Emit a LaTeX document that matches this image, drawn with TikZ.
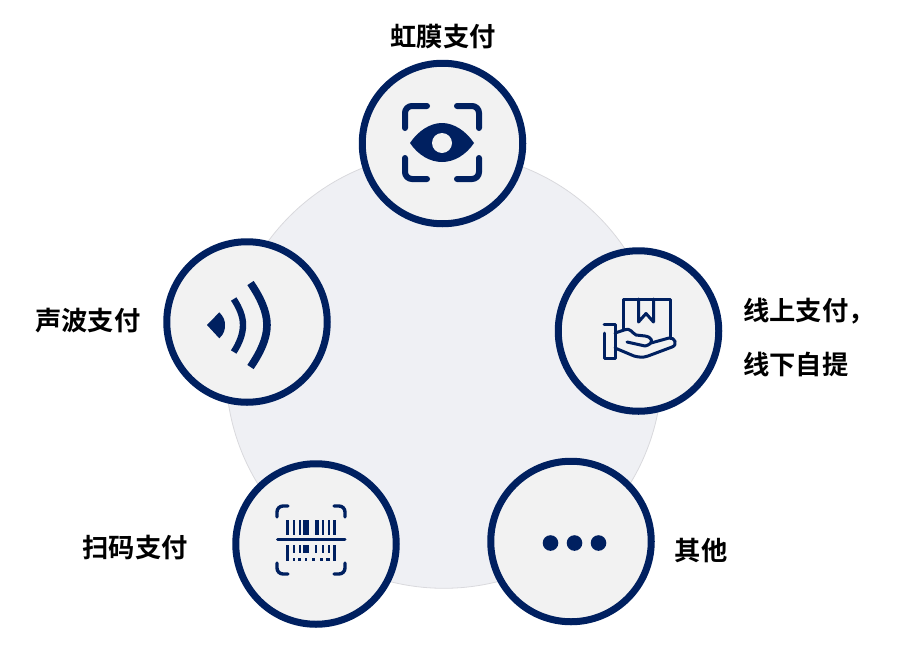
\documentclass[tikz,border=0pt]{standalone}
\usepackage{fontspec}
\newfontfamily\cjk{Noto Sans CJK SC}[BoldFont={Noto Sans CJK SC Bold}]
\definecolor{navy}{HTML}{002060}
\definecolor{disc}{HTML}{F2F2F2}
\definecolor{bigdisc}{HTML}{EFF0F4}
\definecolor{bigedge}{HTML}{D9D9DD}
\tikzset{
  ring/.style={circle,draw=navy,fill=disc,line width=7pt,minimum size=160.5pt,inner sep=0pt,outer sep=0pt},
  lab/.style={font=\cjk\bfseries\fontsize{26.3}{30}\selectfont,text=black,inner sep=0pt},
  backdisc/.style={circle,draw=bigedge,fill=bigdisc,line width=0.8pt,minimum size=436pt,inner sep=0pt,outer sep=0pt},
  bracket/.style={draw=navy,line width=6pt,line cap=round,rounded corners=7pt},
  thinicon/.style={draw=navy,line width=3pt,line cap=round,line join=round},
  codebracket/.style={draw=navy,line width=3.4pt,line cap=round,rounded corners=6pt},
  barfill/.style={fill=navy}
}
\newcommand{\cbar}[4]{\fill[barfill] (#1,#3) rectangle (#2,#4);}
\begin{document}
\begin{tikzpicture}[x=1pt,y=-1pt]
\useasboundingbox (0,0) rectangle (924,651);
\node[backdisc] (big) at (443.9,370.3) {};
\node[ring] (iris) at (442.5,143.5) {};
\node[ring] (online) at (638.5,331) {};
\node[ring] (other) at (571,541.5) {};
\node[ring] (scan) at (316,544) {};
\node[ring] (sound) at (247,322) {};
\node[lab] (tiris) at (443,36.7) {虹膜支付};
\node[lab,anchor=west] (tonline1) at (743,311.5) {线上支付，};
\node[lab,anchor=west] (tonline2) at (743,364.5) {线下自提};
\node[lab] (tother) at (701,550.7) {其他};
\node[lab] (tscan) at (135,547.7) {扫码支付};
\node[lab] (tsound) at (88,320.7) {声波支付};
% eye icon
\draw[bracket] (405,128) -- (405,106) -- (427,106);
\draw[bracket] (457,106) -- (479,106) -- (479,128);
\draw[bracket] (405,158) -- (405,179) -- (427,179);
\draw[bracket] (457,179) -- (479,179) -- (479,158);
\fill[navy] (410,143) .. controls (418,131) and (430,123) .. (442,123) .. controls (454,123) and (466,131) .. (474,143) .. controls (466,155) and (454,162) .. (442,162) .. controls (430,162) and (418,155) .. (410,143) -- cycle;
\fill[disc] (442,143) circle (10);
% box in hand
\draw[thinicon] (623,330) -- (623,299) -- (670,299) -- (670,338);
\draw[thinicon] (638.5,299) -- (638.5,322) -- (646,313.5) -- (653.5,322) -- (653.5,299);
\draw[thinicon] (604,324) -- (615,324) -- (615,358) -- (604,358) -- (604,333);
\draw[thinicon] (615,333) -- (624,330) .. controls (630,327) and (632,333) .. (636,335) -- (645,336) .. controls (652,337) and (654,342) .. (648,345) -- (645,346) -- (627,342);
\draw[thinicon] (651,343) -- (669,338) .. controls (675,337) and (678,345) .. (672,347) -- (648,356) .. controls (643,358) and (638,357) .. (634,356) -- (615,348);
% barcode
\draw[codebracket] (277,517) -- (277,506) -- (288,506);
\draw[codebracket] (334,506) -- (345,506) -- (345,517);
\draw[codebracket] (277,563) -- (277,574) -- (288,574);
\draw[codebracket] (334,574) -- (345,574) -- (345,563);
\draw[navy,line width=3pt,line cap=round] (277.5,539.5) -- (345,539.5);
\cbar{286}{289.3}{520}{535}
\cbar{292.7}{294.5}{520}{535}
\cbar{299}{300.9}{520}{535}
\cbar{303.3}{309}{520}{535}
\cbar{315}{319}{520}{535}
\cbar{322}{323.9}{520}{535}
\cbar{328.3}{330.2}{520}{535}
\cbar{332.7}{336.3}{520}{535}
\cbar{286}{289.3}{545}{561}
\cbar{292.7}{294.5}{545}{553}
\cbar{299}{300.9}{545}{553}
\cbar{303.3}{309}{545}{553}
\cbar{315}{316.9}{545}{553}
\cbar{322}{323.9}{545}{553}
\cbar{328.3}{330.2}{545}{553}
\cbar{332.7}{336.3}{545}{561}
\cbar{292.7}{295}{558}{561}
\cbar{298.3}{300.7}{558}{561}
\cbar{305}{307.3}{558}{561}
\cbar{311.7}{315}{558}{561}
\cbar{320}{323.3}{558}{561}
\cbar{326}{330}{558}{561}
% sound icon
\fill[navy] (207,325) -- (219.3,312.3) .. controls (224,317) and (225,321) .. (225,325) .. controls (225,330) and (224,334) .. (219.3,338.3) -- cycle;
\draw[navy,line width=6.4pt] (233.7,299) .. controls (239.5,308) and (243,316) .. (243,325) .. controls (243,334) and (239.5,343) .. (233.7,352);
\draw[navy,line width=7.6pt] (250.5,283) .. controls (260,297) and (267,311) .. (267,325) .. controls (267,339) and (260,353) .. (250.5,367);
% dots
\fill[navy] (550.5,543) circle (7.8);
\fill[navy] (574.5,543) circle (7.8);
\fill[navy] (598.5,543) circle (7.8);
\end{tikzpicture}
\end{document}
